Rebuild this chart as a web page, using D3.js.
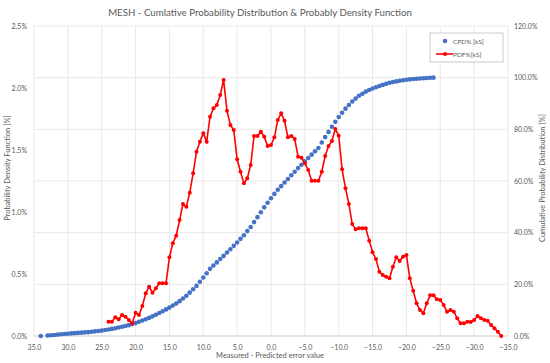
<!DOCTYPE html>
<html lang="en">
<head>
    <meta charset="UTF-8">
    <title>MESH - CPD & PDF</title>
    <script src="https://d3js.org/d3.v7.min.js"></script>
    <style>
        body { margin: 0; background: #fff; overflow: hidden; }
        text { font-family: Lato, "Open Sans", sans-serif; fill: #595959; }
    </style>
</head>
<body>
<div id="chart"></div>
<script>
// Cumulative probability distribution (x = measured - predicted, y = %)
const cpdX = [34, 33, 32.5, 32, 31.5, 31, 30.5, 30, 29.5, 29, 28.5, 28, 27.5, 27, 26.5, 26, 25.5, 25, 24.5, 24,
    23.5, 23, 22.5, 22, 21.5, 21, 20.5, 20, 19.5, 19, 18.5, 18, 17.5, 17, 16.5, 16, 15.5, 15, 14.5, 14,
    13.5, 13, 12.5, 12, 11.5, 11, 10.5, 10, 9.5, 9, 8.5, 8, 7.5, 7, 6.5, 6, 5.5, 5, 4.5, 4,
    3.5, 3, 2.5, 2, 1.5, 1, 0.5, 0, -0.5, -1, -1.5, -2, -2.5, -3, -3.5, -4, -4.5, -5, -5.5, -6,
    -6.5, -7, -7.5, -8, -8.5, -9, -9.5, -10, -10.5, -11, -11.5, -12, -12.5, -13, -13.5, -14, -14.5, -15,
    -15.5, -16, -16.5, -17, -17.5, -18, -18.5, -19, -19.5, -20, -20.5, -21, -21.5, -22, -22.5, -23, -23.5, -24];
const cpdY = [0.0, 0.2, 0.3, 0.4, 0.55, 0.7, 0.8, 0.9, 1.0, 1.1, 1.2, 1.3, 1.4, 1.5, 1.65, 1.8, 1.95, 2.1, 2.3, 2.5,
    2.75, 3.0, 3.3, 3.6, 3.9, 4.2, 4.6, 5.0, 5.5, 6.0, 6.5, 7.0, 7.6, 8.2, 8.9, 9.6, 10.3, 11.0, 11.8, 12.6,
    13.5, 14.5, 15.6, 16.8, 18.1, 19.4, 21.0, 22.6, 24.3, 26.0, 27.3, 28.5, 29.8, 31.0, 32.3, 33.6, 34.9, 36.2, 37.6, 39.0,
    40.6, 42.2, 44.1, 46.0, 47.9, 49.8, 51.6, 53.3, 55.0, 56.6, 58.0, 59.4, 60.8, 62.2, 63.6, 65.0, 66.3, 67.6, 68.9, 70.2,
    71.5, 72.8, 74.9, 77.0, 79.0, 81.0, 82.9, 84.8, 86.4, 88.0, 89.4, 90.8, 91.9, 93.0, 93.8, 94.6, 95.2, 95.8,
    96.3, 96.8, 97.2, 97.6, 98.0, 98.3, 98.55, 98.8, 99.0, 99.2, 99.35, 99.5, 99.6, 99.7, 99.8, 99.9, 99.95, 100.0];

// Probability density function (y = %)
const pdfX = [24, 23.5, 23, 22.5, 22, 21.5, 21, 20.5, 20, 19.5, 19, 18.5, 18, 17.5, 17, 16.5, 16, 15.5, 15, 14.5,
    14, 13.5, 13, 12.5, 12, 11.5, 11, 10.5, 10, 9.5, 9, 8.5, 8, 7.5, 7, 6.5, 6, 5.5, 5, 4.5,
    4, 3.5, 3, 2.5, 2, 1.5, 1, 0.5, 0, -0.5, -1, -1.5, -2, -2.5, -3, -3.5, -4, -4.5, -5, -5.5,
    -6, -6.5, -7, -7.5, -8, -8.5, -9, -9.5, -10, -10.5, -11, -11.5, -12, -12.5, -13, -13.5, -14, -14.5, -15, -15.5,
    -16, -16.5, -17, -17.5, -18, -18.5, -19, -19.5, -20, -20.5, -21, -21.5, -22, -22.5, -23, -23.5, -24, -24.5, -25, -25.5,
    -26, -26.5, -27, -27.5, -28, -28.5, -29, -29.5, -30, -30.5, -31, -31.5, -32, -32.5, -33, -33.5, -34];
const pdfY = [0.115, 0.115, 0.151, 0.135, 0.169, 0.156, 0.129, 0.102, 0.188, 0.169, 0.242, 0.344, 0.398, 0.349, 0.385, 0.425, 0.425, 0.425, 0.635, 0.748,
    0.809, 0.935, 1.065, 1.043, 1.156, 1.312, 1.486, 1.567, 1.635, 1.567, 1.769, 1.836, 1.863, 1.944, 2.065, 1.817, 1.702, 1.661, 1.425, 1.325,
    1.231, 1.272, 1.379, 1.613, 1.613, 1.648, 1.607, 1.532, 1.540, 1.602, 1.742, 1.796, 1.736, 1.602, 1.613, 1.589, 1.446, 1.438, 1.393, 1.339,
    1.252, 1.252, 1.252, 1.325, 1.452, 1.532, 1.573, 1.669, 1.615, 1.344, 1.191, 1.065, 0.903, 0.860, 0.869, 0.869, 0.869, 0.769, 0.675, 0.621,
    0.519, 0.492, 0.478, 0.465, 0.559, 0.635, 0.605, 0.640, 0.653, 0.465, 0.365, 0.264, 0.210, 0.183, 0.264, 0.328, 0.328, 0.296, 0.290, 0.250,
    0.196, 0.210, 0.196, 0.143, 0.102, 0.102, 0.115, 0.113, 0.129, 0.161, 0.143, 0.129, 0.123, 0.089, 0.062, 0.035, 0.0];

const xTicks = [35, 30, 25, 20, 15, 10, 5, 0, -5, -10, -15, -20, -25, -30, -35];
const pdfTicks = [0, 0.5, 1.0, 1.5, 2.0, 2.5];
const cpdTicks = [0, 20, 40, 60, 80, 100, 120];

const width = 550, height = 363;
const plot = { left: 34, right: 508, top: 26, bottom: 336 };

const svg = d3.select("#chart").append("svg")
    .attr("width", width)
    .attr("height", height);

const x = d3.scaleLinear().domain([35, -35]).range([plot.left, plot.right]);
const yPdf = d3.scaleLinear().domain([0, 2.5]).range([plot.bottom, plot.top]);
const yCpd = d3.scaleLinear().domain([0, 120]).range([plot.bottom, plot.top]);

// gridlines
const grid = svg.append("g");
grid.selectAll("line.v").data(xTicks).enter().append("line")
    .attr("x1", d => x(d)).attr("x2", d => x(d))
    .attr("y1", plot.top).attr("y2", plot.bottom)
    .attr("stroke", "#e3e3e3").attr("stroke-width", 0.8);
grid.selectAll("line.h").data(cpdTicks).enter().append("line")
    .attr("x1", plot.left).attr("x2", plot.right)
    .attr("y1", d => yCpd(d)).attr("y2", d => yCpd(d))
    .attr("stroke", d => d === 0 ? "#bfbfbf" : "#e3e3e3").attr("stroke-width", 0.8);

// axes (labels only, Excel style)
const fmt1 = d3.format(".1f");
const xAxis = svg.append("g")
    .attr("transform", `translate(0,${plot.bottom})`)
    .call(d3.axisBottom(x).tickValues(xTicks).tickSize(0).tickPadding(9).tickFormat(fmt1));
const yLeft = svg.append("g")
    .attr("transform", `translate(${plot.left},0)`)
    .call(d3.axisLeft(yPdf).tickValues(pdfTicks).tickSize(0).tickPadding(7).tickFormat(d => fmt1(d) + "%"));
const yRight = svg.append("g")
    .attr("transform", `translate(${plot.right},0)`)
    .call(d3.axisRight(yCpd).tickValues(cpdTicks).tickSize(0).tickPadding(6).tickFormat(d => fmt1(d) + "%"));
[xAxis, yLeft, yRight].forEach(g => {
    g.select(".domain").remove();
    g.selectAll("text").style("font-size", "7px").attr("fill", "#6a6a6a");
});

// CPD dots
svg.append("g").selectAll("circle")
    .data(cpdX.map((v, i) => [v, cpdY[i]]))
    .enter().append("circle")
    .attr("cx", d => x(d[0]))
    .attr("cy", d => yCpd(d[1]))
    .attr("r", 2.3)
    .attr("fill", "#4472c4");

// PDF line + markers
const pdfData = pdfX.map((v, i) => [v, pdfY[i]]);
svg.append("path")
    .datum(pdfData)
    .attr("fill", "none")
    .attr("stroke", "#ff0000")
    .attr("stroke-width", 1.6)
    .attr("d", d3.line().x(d => x(d[0])).y(d => yPdf(d[1])));
svg.append("g").selectAll("circle")
    .data(pdfData)
    .enter().append("circle")
    .attr("cx", d => x(d[0]))
    .attr("cy", d => yPdf(d[1]))
    .attr("r", 2)
    .attr("fill", "#ff0000");

// title
svg.append("text")
    .attr("x", 260).attr("y", 16)
    .attr("text-anchor", "middle")
    .style("font-size", "9.7px")
    .text("MESH - Cumlative Probability Distribution & Probably Density Function");

// axis titles
svg.append("text")
    .attr("x", 270).attr("y", 358)
    .attr("text-anchor", "middle")
    .style("font-size", "7.5px")
    .text("Measured - Predicted error value");
svg.append("text")
    .attr("transform", "translate(10,168) rotate(-90)")
    .attr("text-anchor", "middle")
    .style("font-size", "7.5px")
    .text("Probability Density Function [%]");
svg.append("text")
    .attr("transform", "translate(545,178) rotate(-90)")
    .attr("text-anchor", "middle")
    .style("font-size", "7.5px")
    .text("Cumulative Probability Distribution [%]");

// legend
const legend = svg.append("g").attr("transform", "translate(430,33)");
legend.append("rect")
    .attr("width", 73).attr("height", 29)
    .attr("fill", "#fff").attr("stroke", "#bfbfbf").attr("stroke-width", 0.8);
legend.append("circle").attr("cx", 15).attr("cy", 8).attr("r", 2.3).attr("fill", "#4472c4");
legend.append("text").attr("x", 23).attr("y", 10.5).style("font-size", "6.5px").text("CPD% [kS]");
legend.append("line").attr("x1", 6).attr("x2", 23).attr("y1", 21).attr("y2", 21)
    .attr("stroke", "#ff0000").attr("stroke-width", 1.6);
legend.append("circle").attr("cx", 15).attr("cy", 21).attr("r", 2).attr("fill", "#ff0000");
legend.append("text").attr("x", 23).attr("y", 23.5).style("font-size", "6.5px").text("PDF%[kS]");
</script>
</body>
</html>
